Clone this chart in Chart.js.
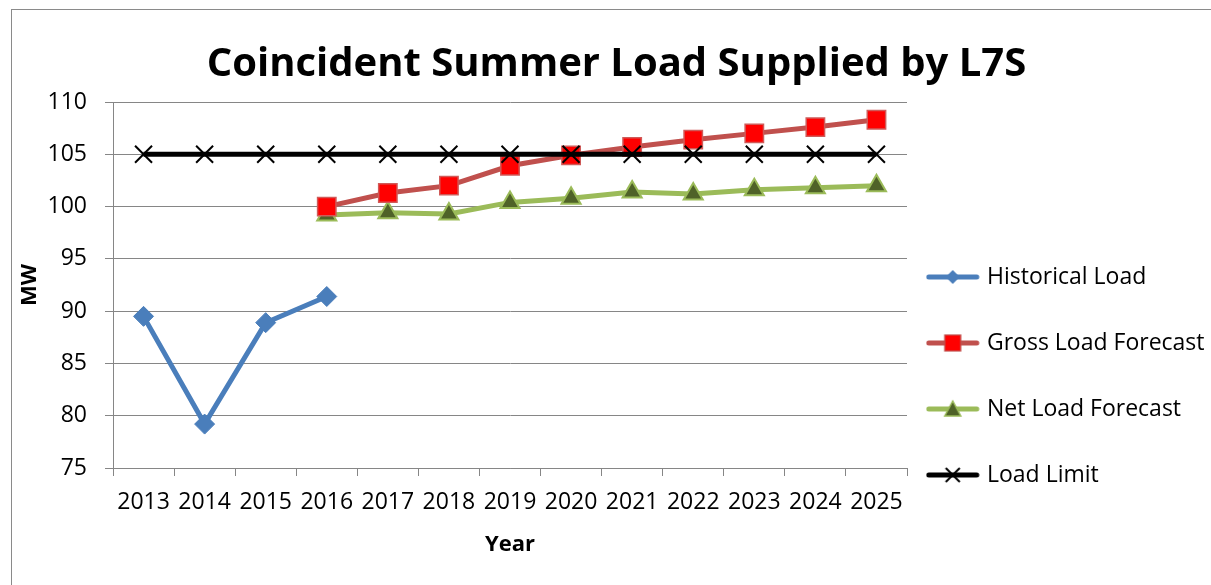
<!DOCTYPE html>
<html><head><meta charset="utf-8">
<script src="https://cdn.jsdelivr.net/npm/chart.js@4.4.1/dist/chart.umd.min.js"></script>
<style>
html,body{margin:0;padding:0;background:#fff;overflow:hidden;width:1211px;height:585px;}
#frame{position:absolute;left:11px;top:9px;width:1400px;height:800px;border:1.5px solid #8a8a8a;box-sizing:border-box;}
#c{position:absolute;left:0;top:0;}
</style></head><body>
<div id="frame"></div>
<canvas id="c" width="1211" height="585"></canvas>
<script>
// ---- data ----
const years = ['2013','2014','2015','2016','2017','2018','2019','2020','2021','2022','2023','2024','2025'];
const historicalLoad = [89.5, 79.2, 88.9, 91.4, null, null, null, null, null, null, null, null, null];
const grossLoadForecast = [null, null, null, 100.0, 101.3, 102.0, 103.9, 104.9, 105.7, 106.4, 107.0, 107.6, 108.3];
const netLoadForecast = [null, null, null, 99.2, 99.4, 99.3, 100.4, 100.8, 101.4, 101.2, 101.6, 101.8, 102.0];
const loadLimit = [105, 105, 105, 105, 105, 105, 105, 105, 105, 105, 105, 105, 105];
const yMin = 75, yMax = 110, yStep = 5;
const seriesNames = ['Historical Load', 'Gross Load Forecast', 'Net Load Forecast', 'Load Limit'];

Chart.defaults.font.family = "'Open Sans', sans-serif";
Chart.defaults.color = '#000';

const BLUE = '#4A7EBB', RED_LINE = '#C0504D', RED = '#FF0000', GREEN = '#9BBB59', OLIVE = '#4F6228';
const PLOT_LEFT = 113, PLOT_RIGHT = 907, TITLE_CENTER = 616.5;
const LEG_FONT = 23, LEG_PAD = 43, LEG_BOX = 25.5;

function makeIcon(kind) {
  const c = document.createElement('canvas');
  c.width = 74; c.height = 30;
  const g = c.getContext('2d');
  const cy = 15, mx = 27;
  const lineColor = {hist: BLUE, gross: RED_LINE, net: GREEN, limit: '#000'}[kind];
  g.lineCap = 'round'; g.lineWidth = 5; g.strokeStyle = lineColor;
  g.beginPath(); g.moveTo(3, cy); g.lineTo(51, cy); g.stroke();
  g.lineCap = 'butt';
  if (kind === 'hist') {
    g.fillStyle = BLUE; g.beginPath();
    g.moveTo(mx, cy - 7); g.lineTo(mx + 7, cy); g.lineTo(mx, cy + 7); g.lineTo(mx - 7, cy); g.closePath(); g.fill();
  } else if (kind === 'gross') {
    g.fillStyle = RED; g.fillRect(mx - 8, cy - 8, 16, 16);
    g.lineWidth = 1.2; g.strokeStyle = RED_LINE; g.strokeRect(mx - 8, cy - 8, 16, 16);
  } else if (kind === 'net') {
    g.fillStyle = OLIVE; g.strokeStyle = GREEN; g.lineWidth = 1.5;
    g.beginPath(); g.moveTo(mx, cy - 8); g.lineTo(mx + 8, cy + 7); g.lineTo(mx - 8, cy + 7); g.closePath(); g.fill(); g.stroke();
  } else {
    g.strokeStyle = '#000'; g.lineWidth = 2;
    g.beginPath(); g.moveTo(mx - 7, cy - 7); g.lineTo(mx + 7, cy + 7); g.moveTo(mx + 7, cy - 7); g.lineTo(mx - 7, cy + 7); g.stroke();
  }
  return c;
}
const icons = [makeIcon('hist'), makeIcon('gross'), makeIcon('net'), makeIcon('limit')];

// lets the right-hand legend keep its natural width (Chart.js caps side boxes at a quarter of the width)
const legendWidthFix = {
  id: 'legendWidthFix',
  beforeLayout(chart) {
    const lg = chart.legend;
    if (lg && !lg._wfix) {
      const orig = lg.update;
      lg.update = function (w, h, m) { return orig.call(this, Math.max(w, 420), h, m); };
      lg._wfix = true;
    }
  }
};

function config(padL, padR) {
  return {
    type: 'line',
    data: {
      labels: years,
      datasets: [
        {label: seriesNames[0], data: historicalLoad, borderColor: BLUE, backgroundColor: BLUE, borderWidth: 5,
         pointStyle: 'rectRot', pointRadius: 10, pointBackgroundColor: BLUE, pointBorderColor: BLUE, pointBorderWidth: 1, order: 1},
        {label: seriesNames[1], data: grossLoadForecast, borderColor: RED_LINE, backgroundColor: RED, borderWidth: 5,
         pointStyle: 'rect', pointRadius: 13, pointBackgroundColor: RED, pointBorderColor: '#D05A58', pointBorderWidth: 1.5, order: 2},
        {label: seriesNames[2], data: netLoadForecast, borderColor: GREEN, backgroundColor: OLIVE, borderWidth: 5,
         pointStyle: 'triangle', pointRadius: 11, pointBackgroundColor: OLIVE, pointBorderColor: GREEN, pointBorderWidth: 2, order: 3},
        {label: seriesNames[3], data: loadLimit, borderColor: '#000', backgroundColor: '#000', borderWidth: 5,
         pointStyle: 'crossRot', pointRadius: 12, pointBorderColor: '#000', pointBorderWidth: 2, order: 0}
      ]
    },
    plugins: [legendWidthFix],
    options: {
      responsive: false, animation: false, devicePixelRatio: 1,
      layout: {padding: {left: padL, right: padR, top: 0, bottom: 0}},
      plugins: {
        title: {display: true, text: 'Coincident Summer Load Supplied by L7S', color: '#000',
                font: {size: 40, weight: 'bold'}, padding: {top: 41, bottom: 13}},
        legend: {
          position: 'right', align: 'center',
          title: {display: true, text: ' ', font: {size: 10}, padding: {top: 155, bottom: 0}},
          labels: {
            usePointStyle: true, pointStyleWidth: LEG_BOX, padding: LEG_PAD, color: '#000', font: {size: LEG_FONT},
            sort: (a, b) => a.datasetIndex - b.datasetIndex,
            generateLabels(chart) {
              const items = Chart.defaults.plugins.legend.labels.generateLabels(chart);
              items.forEach(it => { it.pointStyle = icons[it.datasetIndex]; it.fontColor = '#000'; });
              return items;
            }
          }
        },
        tooltip: {enabled: false}
      },
      scales: {
        x: {
          type: 'category', offset: true,
          grid: {offset: true, drawOnChartArea: false, drawTicks: true, tickLength: 8, color: '#868686', lineWidth: 1},
          border: {color: '#868686', width: 1},
          ticks: {font: {size: 23}, color: '#000', padding: 13, maxRotation: 0, autoSkip: false},
          title: {display: true, text: 'Year', color: '#000', font: {size: 22, weight: 'bold'}, padding: {top: 0, bottom: 27}},
          afterFit(s) { s.height = 117; }
        },
        y: {
          min: yMin, max: yMax,
          ticks: {stepSize: yStep, font: {size: 23}, color: '#000', padding: 18},
          grid: {color: '#868686', lineWidth: 1, tickLength: 8},
          border: {color: '#868686', width: 1},
          title: {display: true, text: 'MW', color: '#000', font: {size: 22, weight: 'bold'}, padding: {top: 30 - 13.2 - padL, bottom: 0}},
          afterFit(s) { s.width = PLOT_LEFT - padL; }
        }
      }
    }
  };
}

function render() {
  const ctx = document.getElementById('c').getContext('2d');
  let padR = 0, padL = 0;
  let chart = new Chart(ctx, config(padL, padR));
  for (let i = 0; i < 4; i++) {
    const err = chart.chartArea.right - PLOT_RIGHT;
    if (Math.abs(err) < 0.25 && i > 0) break;
    padR += err;
    padL = padR + 2 * TITLE_CENTER - 1211;
    chart.destroy();
    chart = new Chart(ctx, config(padL, padR));
  }
}

const fontLoads = document.fonts ? Promise.all([
  document.fonts.load("23px 'Open Sans'"), document.fonts.load("bold 40px 'Open Sans'")
]) : Promise.resolve();
fontLoads.then(render, render);
</script>
</body></html>
